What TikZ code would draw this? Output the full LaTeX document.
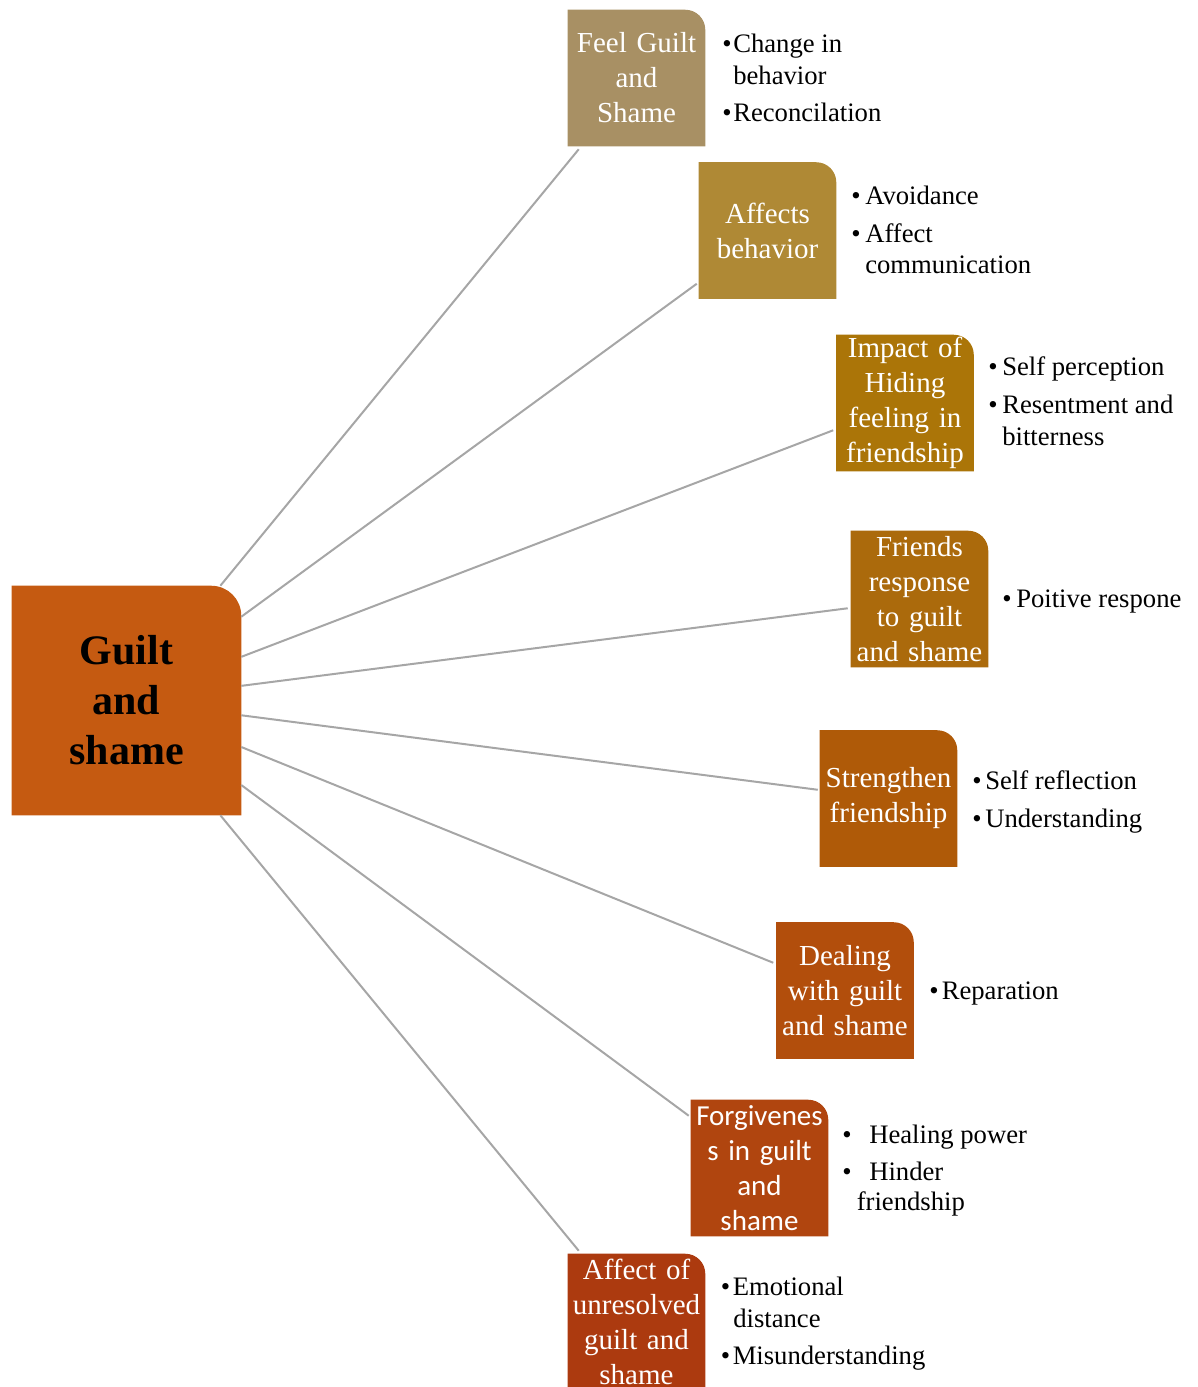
\documentclass[tikz,border=0pt]{standalone}
\usepackage{fontspec}
\setmainfont{Liberation Serif}
\newfontfamily\calibrifont{Carlito}
\usetikzlibrary{backgrounds,calc}
\definecolor{cmain}{HTML}{C55A11}
\definecolor{cA}{HTML}{A89064}
\definecolor{cB}{HTML}{AF8935}
\definecolor{cC}{HTML}{AB7508}
\definecolor{cD}{HTML}{AB6A0C}
\definecolor{cE}{HTML}{AF5A08}
\definecolor{cF}{HTML}{B24E0C}
\definecolor{cG}{HTML}{B0450F}
\definecolor{cH}{HTML}{AC3A0F}
\definecolor{conn}{HTML}{A6A6A6}
\newcommand{\tabbox}[3]{%
  \fill[#2] (#1.south west) -- (#1.north west) -- ([xshift=-#3]#1.north east)
    arc[start angle=90,end angle=0,radius=#3] -- (#1.south east) -- cycle;}
\newcommand{\bul}[1]{\makebox[#1][l]{\textbullet}}
\begin{document}
\begin{tikzpicture}[x=0.75pt,y=-0.75pt,
  topic/.style={inner sep=0pt, text width=102.75pt, minimum height=102pt,
    align=center, text=white, font=\fontsize{21.75pt}{26.25pt}\selectfont},
  item/.style={inner sep=0pt, anchor=base west, font=\fontsize{20pt}{24pt}\selectfont},
  link/.style={draw=conn, line width=1.5pt}]

\useasboundingbox (0,0) rectangle (1198,1387);

% central node
\node[inner sep=0pt, minimum width=171.75pt, minimum height=171.75pt, align=center,
  font=\fontsize{31.5pt}{37.5pt}\selectfont\bfseries] (main) at (126.5,700.5) {Guilt\\and\\shame};

% topic nodes
\node[topic] (b1) at (636.5,78) {Feel Guilt\\and\\Shame};
\node[topic] (b2) at (767.5,230.5) {Affects\\behavior};
\node[topic] (b3) at (905,403) {Impact of\\Hiding\\feeling in\\friendship};
\node[topic] (b4) at (919.5,599) {Friends\\response\\to guilt\\and shame};
\node[topic] (b5) at (888.5,798.5) {Strengthen\\friendship};
\node[topic] (b6) at (845,990.5) {Dealing\\with guilt\\and shame};
\node[topic, font=\calibrifont\fontsize{21.75pt}{26.25pt}\selectfont] (b7) at (759.5,1168) {Forgivenes\\s in guilt\\and\\shame};
\node[topic] (b8) at (636.5,1322) {Affect of\\unresolved\\guilt and\\shame};

\begin{scope}[on background layer]
  \tabbox{main}{cmain}{22.5pt}
  \tabbox{b1}{cA}{15pt}
  \tabbox{b2}{cB}{15pt}
  \tabbox{b3}{cC}{15pt}
  \tabbox{b4}{cD}{15pt}
  \tabbox{b5}{cE}{15pt}
  \tabbox{b6}{cF}{15pt}
  \tabbox{b7}{cG}{15pt}
  \tabbox{b8}{cH}{15pt}
\end{scope}

% connector end points on the topic boxes
\coordinate (e1) at ($(b1.south west)+(11,3)$);
\coordinate (e2) at ($(b2.south west)+(-2,-15)$);
\coordinate (e3) at ($(b3.south west)+(-3,-41)$);
\coordinate (e4) at ($(b4.south west)+(-3,-59)$);
\coordinate (e5) at ($(b5.south west)+(-2,-77)$);
\coordinate (e6) at ($(b6.south west)+(-3,-96)$);
\coordinate (e7) at ($(b7.north west)+(-2,16)$);
\coordinate (e8) at ($(b8.north west)+(11,-3)$);
\foreach \e in {e1,e2,e3,e4,e5,e6,e7,e8}{
  \draw[link] (main) -- (\e);
}

% bullet lists
\node[item] (t1a) at (722,53) {\bul{8.25pt}Change in};
\node[item] (t1b) at (733,85) {behavior};
\node[item] (t1c) at (722,122) {\bul{8.25pt}Reconcilation};

\node[item] (t2a) at (851,205) {\bul{10.5pt}Avoidance};
\node[item] (t2b) at (851,243) {\bul{10.5pt}Affect};
\node[item] (t2c) at (865,274) {communication};

\node[item] (t3a) at (988,375) {\bul{10.5pt}Self perception};
\node[item] (t3b) at (988,413) {\bul{10.5pt}Resentment and};
\node[item] (t3c) at (1002,445) {bitterness};

\node[item] (t4a) at (1002,607) {\bul{10.5pt}Poitive respone};

\node[item] (t5a) at (972,789) {\bul{9.75pt}Self reflection};
\node[item] (t5b) at (972,827) {\bul{9.75pt}Understanding};

\node[item] (t6a) at (929,999) {\bul{9.4pt}Reparation};

\node[item] (t7a) at (842,1143) {\bul{20.25pt}Healing power};
\node[item] (t7b) at (842,1180) {\bul{20.25pt}Hinder};
\node[item] (t7c) at (856.5,1210) {friendship};

\node[item] (t8a) at (720.5,1295) {\bul{9pt}Emotional};
\node[item] (t8b) at (733,1327) {distance};
\node[item] (t8c) at (720.5,1364) {\bul{9pt}Misunderstanding};
\end{tikzpicture}
\end{document}
